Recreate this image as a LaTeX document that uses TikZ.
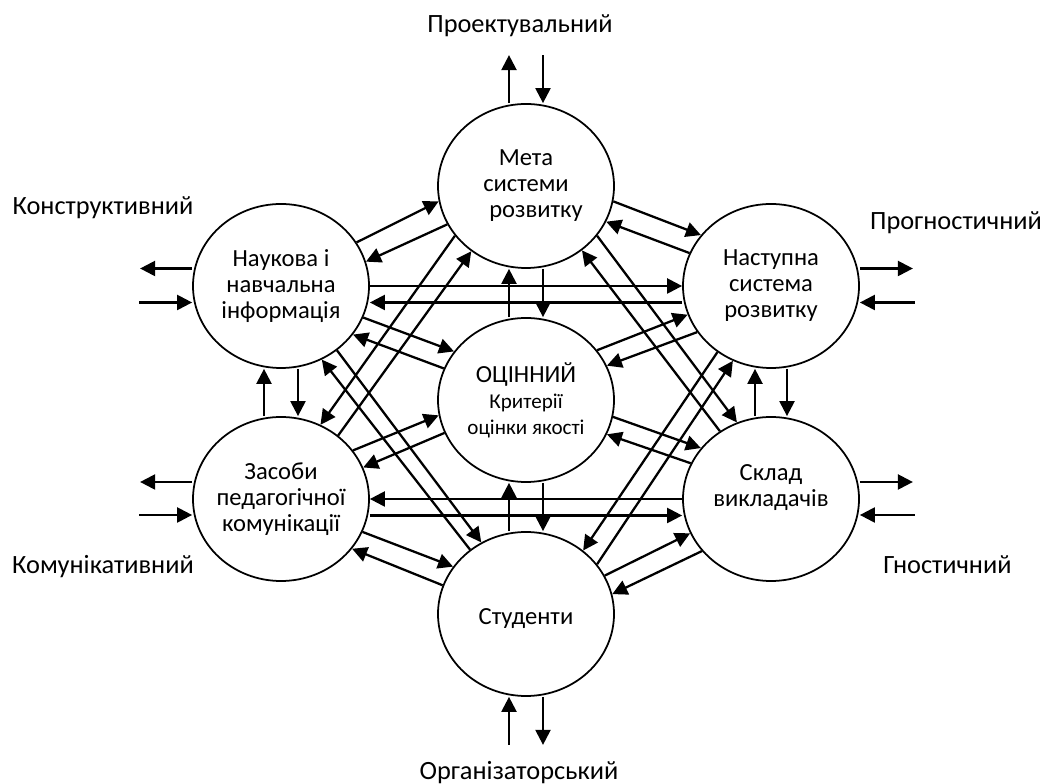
\documentclass[tikz,border=0pt]{standalone}
\usepackage{fontspec}
\setmainfont{Carlito}
\usetikzlibrary{shapes.geometric,arrows.meta}

\newcommand{\blobfont}{\fontsize{14pt}{14.8pt}\selectfont}
\newcommand{\smallblobfont}{\fontsize{12pt}{12.6pt}\selectfont}
\newcommand{\tagfont}{\fontsize{15pt}{16pt}\selectfont}

\begin{document}
\begin{tikzpicture}[
    blob/.style={draw,ellipse,line width=1pt,minimum width=3.52cm,minimum height=3.28cm,
                 inner xsep=-.3cm,inner ysep=0pt,align=center,font=\blobfont},
    link/.style={-{Triangle[length=.3cm,width=.3cm]},line width=1.3pt},
    tag/.style={anchor=base,font=\tagfont}
  ]
    \useasboundingbox (0,0) rectangle (20.9,15.68);

    % Components of the system
    \node[blob] (meta) at (10.52,11.96) {Мета\\системи\\\hspace*{.2cm}розвитку\hspace*{-.2cm}};
    \node[blob] (nauk) at (5.62,9.96) {Наукова і\\навчальна\\інформація};
    \node[blob] (nast) at (15.42,9.96) {Наступна\\система\\розвитку};
    \node[blob] (otsin) at (10.52,7.68) {ОЦІННИЙ\\\smallblobfont Критерії\\\smallblobfont оцінки якості};
    \node[blob] (zasob) at (5.62,5.70) {Засоби\\педагогічної\\комунікації};
    \node[blob] (sklad) at (15.42,5.70) {Склад\\викладачів\\\mbox{}};
    \node[blob] (stud) at (10.52,3.40) {\mbox{}\\Студенти};

    % Functions
    \node[tag] (proekt) at (10.40,15.02) {Проектувальний};
    \node[tag] (konstr) at (2.06,11.38) {Конструктивний};
    \node[tag] (prohn) at (19.12,11.08) {Прогностичний};
    \node[tag] (komun) at (2.06,4.20) {Комунікативний};
    \node[tag] (hnost) at (18.95,4.20) {Гностичний};
    \node[tag] (orhan) at (10.38,0.08) {Організаторський};

    % Outer arrows
    \draw[link] ([xshift=-.34cm]meta.north) -- ++(0,.96);
    \draw[link] ([xshift=.34cm,yshift=.96cm]meta.north) -- ([xshift=.34cm]meta.north);
    \draw[link] ([yshift=.35cm]nauk.west) -- ++(-1.04,0);
    \draw[link] ([xshift=-1.06cm,yshift=-.33cm]nauk.west) -- ([yshift=-.33cm]nauk.west);
    \draw[link] ([yshift=.35cm]nast.east) -- ++(1.06,0);
    \draw[link] ([xshift=1.1cm,yshift=-.33cm]nast.east) -- ([yshift=-.33cm]nast.east);
    \draw[link] ([yshift=.34cm]zasob.west) -- ++(-1.04,0);
    \draw[link] ([xshift=-1.06cm,yshift=-.32cm]zasob.west) -- ([yshift=-.32cm]zasob.west);
    \draw[link] ([yshift=.34cm]sklad.east) -- ++(1.06,0);
    \draw[link] ([xshift=1.1cm,yshift=-.32cm]sklad.east) -- ([yshift=-.32cm]sklad.east);
    \draw[link] ([xshift=-.34cm,yshift=-.96cm]stud.south) -- ([xshift=-.34cm]stud.south);
    \draw[link] ([xshift=.34cm]stud.south) -- ++(0,-.96);

    % Vertical links
    \draw[link] ([xshift=-.34cm]otsin.north) -- ([xshift=-.34cm]meta.south);
    \draw[link] ([xshift=.34cm]meta.south) -- ([xshift=.34cm]otsin.north);
    \draw[link] ([xshift=-.34cm]stud.north) -- ([xshift=-.34cm]otsin.south);
    \draw[link] ([xshift=.34cm]otsin.south) -- ([xshift=.34cm]stud.north);
    \draw[link] ([xshift=-.34cm]zasob.north) -- ([xshift=-.34cm]nauk.south);
    \draw[link] ([xshift=.34cm]nauk.south) -- ([xshift=.34cm]zasob.north);
    \draw[link] ([xshift=-.32cm]sklad.north) -- ([xshift=-.32cm]nast.south);
    \draw[link] ([xshift=.32cm]nast.south) -- ([xshift=.32cm]sklad.north);

    % Horizontal links
    \draw[link] (nauk.east) -- (nast.west);
    \draw[link] ([yshift=-.33cm]nast.west) -- ([yshift=-.33cm]nauk.east);
    \draw[link] (sklad.west) -- (zasob.east);
    \draw[link] ([yshift=-.33cm]zasob.east) -- ([yshift=-.33cm]sklad.west);

    % Links between neighbours
    \draw[link] (nauk.30) -- (meta.190);
    \draw[link] (meta.206) -- (nauk.16);
    \draw[link] (meta.350) -- (nast.144);
    \draw[link] (nast.158) -- (meta.336);
    \draw[link] (nauk.339) -- (otsin.146);
    \draw[link] (otsin.159) -- (nauk.326);
    \draw[link] (otsin.35) -- (nast.199);
    \draw[link] (nast.212) -- (otsin.23);
    \draw[link] (zasob.34) -- (otsin.190);
    \draw[link] (otsin.202) -- (zasob.21);
    \draw[link] (otsin.349) -- (sklad.144);
    \draw[link] (sklad.156) -- (otsin.337);
    \draw[link] (zasob.338) -- (stud.147);
    \draw[link] (stud.161) -- (zasob.325);
    \draw[link] (stud.26) -- (sklad.203);
    \draw[link] (sklad.217) -- (stud.13);

    % Crossing links
    \draw[link] (meta.215) -- (zasob.62);
    \draw[link] (zasob.48) -- (meta.230);
    \draw[link] (meta.325) -- (sklad.114);
    \draw[link] (sklad.127) -- (meta.311);
    \draw[link] (nauk.311) -- (stud.122);
    \draw[link] (stud.131) -- (nauk.299);
    \draw[link] (nast.231) -- (stud.48);
    \draw[link] (stud.35) -- (nast.243);
  \end{tikzpicture}
\end{document}
